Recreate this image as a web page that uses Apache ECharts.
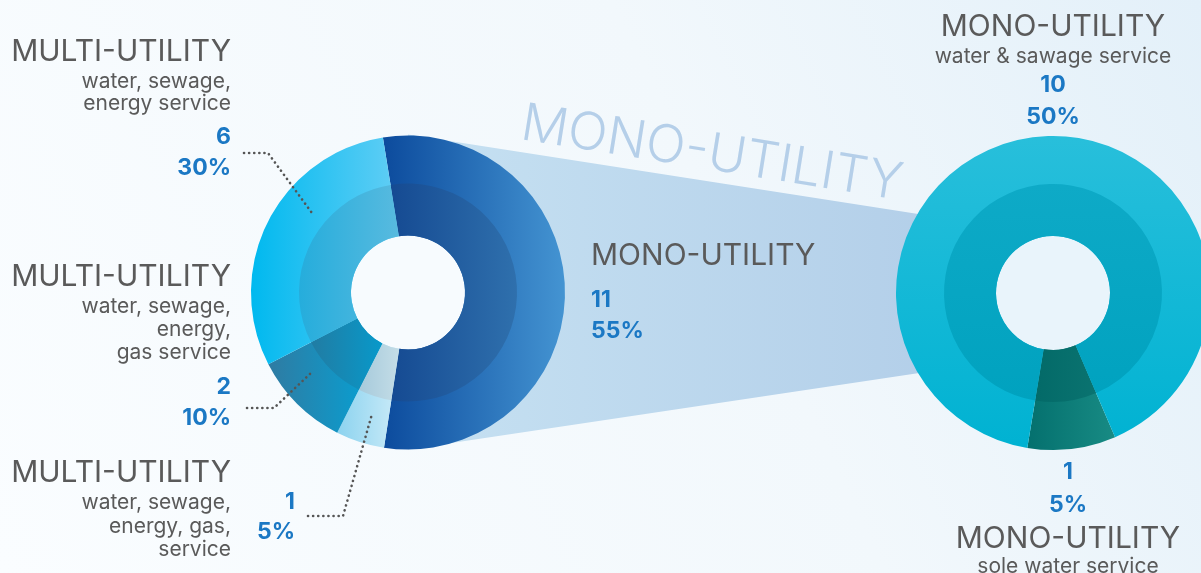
<!DOCTYPE html>
<html>
<head>
<meta charset="utf-8">
<script src="https://cdn.jsdelivr.net/npm/echarts@6/dist/echarts.min.js"></script>
<style>
html,body{margin:0;padding:0;background:#f4f9fd;}
#main{width:1201px;height:573px;}
</style>
</head>
<body>
<div id="main"></div>
<script>
// ---- data ----
const leftNames = ['MONO-UTILITY', 'MULTI-UTILITY (water, sewage, energy, gas, service)', 'MULTI-UTILITY (water, sewage, energy, gas service)', 'MULTI-UTILITY (water, sewage, energy service)'];
const leftValues = [11, 1, 2, 6];
const leftPercents = ['55%', '5%', '10%', '30%'];
const rightNames = ['MONO-UTILITY (sole water service)', 'MONO-UTILITY (water & sawage service)'];
const rightValues = [1, 10];
const rightPercents = ['5%', '50%'];
const bandTitle = 'MONO-UTILITY';

// ---- layout ----
const LC = [408, 292.5], RC = [1053, 293];
const R_HOLE = 57, R_MID = 109, R_OUT = 157;
const FONT = 'Inter, "Noto Sans", sans-serif';
const GRAY = '#5a5a5a', BLUE = '#1b78c4';
const T_SIZE = 30, S_SIZE = 21, N_SIZE = 23;

function hgrad(a, b) { return new echarts.graphic.LinearGradient(0, 0, 1, 0, [{offset: 0, color: a}, {offset: 1, color: b}]); }
function vgrad(a, b) { return new echarts.graphic.LinearGradient(0, 0, 0, 1, [{offset: 0, color: a}, {offset: 1, color: b}]); }

const leftOuterColors = [hgrad('#0c4b9d', '#4494d2'), hgrad('#8cd3ef', '#cbebf8'), hgrad('#2f7ba2', '#03a4d8'), hgrad('#00b9ef', '#62cef5')];
const leftInnerColors = [hgrad('#154a92', '#2f70ad'), hgrad('#a6cadb', '#c4dde7'), hgrad('#217ca3', '#0899ca'), hgrad('#25addc', '#58badf')];
const rightOuterColors = [hgrad('#04706e', '#188b84'), vgrad('#28bfdb', '#00b2d2')];
const rightInnerColors = [hgrad('#036a68', '#0a7370'), vgrad('#0eaac7', '#00a2bf')];

function pieData(names, values, colors) {
  return values.map((v, i) => ({ name: names[i], value: v, itemStyle: { color: colors[i] } }));
}
function pieSeries(center, radius, startAngle, data, z) {
  return {
    type: 'pie', center: center, radius: radius, startAngle: startAngle, clockwise: true,
    silent: true, animation: false, label: { show: false }, labelLine: { show: false },
    itemStyle: { borderWidth: 0 }, z: z, data: data
  };
}

const chart = echarts.init(document.getElementById('main'), null, { renderer: 'canvas' });

function txt(x, y, text, size, color, align, weight, extra) {
  return Object.assign({
    type: 'text', x: x, y: y, z: 100, silent: true,
    style: { text: text, fill: color, font: (weight || 400) + ' ' + size + 'px ' + FONT, textAlign: align || 'right', textVerticalAlign: 'middle' }
  }, extra || {});
}
function num(x, y, text, align) { return txt(x, y, text, N_SIZE, BLUE, align || 'right', 700); }
function dots(points) {
  return { type: 'polyline', z: 90, silent: true, shape: { points: points },
    style: { stroke: '#555', lineWidth: 2.6, lineDash: [0.1, 5], lineCap: 'round', fill: null } };
}

const leftTitle = 'MULTI-UTILITY';
const graphics = [
  // connecting band
  { type: 'polygon', z: 1, silent: true,
    shape: { points: [[LC[0], LC[1] - 158], [RC[0], RC[1] - 58], [RC[0], RC[1] + 60], [LC[0], LC[1] + 157]] },
    style: { fill: hgrad('#c6e1f2', '#afcbe7') } },
  // donut holes (background showing through)
  { type: 'circle', z: 3, silent: true, shape: { cx: LC[0], cy: LC[1], r: R_HOLE + 1 }, style: { fill: '#f7fbfe' } },
  { type: 'circle', z: 3, silent: true, shape: { cx: RC[0], cy: RC[1], r: R_HOLE + 1 }, style: { fill: '#e9f4fb' } },
  // rotated band title
  txt(712, 154, bandTitle, 52, '#b5cfe9', 'center', 300, { rotation: -0.159, z: 4 }),

  // left block 1 (30%)
  txt(231, 52, leftTitle, T_SIZE, GRAY),
  txt(231, 82, 'water, sewage,', S_SIZE, GRAY),
  txt(231, 104, 'energy service', S_SIZE, GRAY),
  num(231, 137, String(leftValues[3])),
  num(231, 168, leftPercents[3]),
  // left block 2 (10%)
  txt(231, 277, leftTitle, T_SIZE, GRAY),
  txt(231, 307, 'water, sewage,', S_SIZE, GRAY),
  txt(231, 330, 'energy,', S_SIZE, GRAY),
  txt(231, 353, 'gas service', S_SIZE, GRAY),
  num(231, 387, String(leftValues[2])),
  num(231, 418, leftPercents[2]),
  // left block 3 (5%)
  txt(231, 473, leftTitle, T_SIZE, GRAY),
  txt(231, 503, 'water, sewage,', S_SIZE, GRAY),
  txt(231, 527, 'energy, gas,', S_SIZE, GRAY),
  txt(231, 550, 'service', S_SIZE, GRAY),
  num(295, 502, String(leftValues[1])),
  num(295, 532, leftPercents[1]),
  // middle
  txt(591, 256, 'MONO-UTILITY', T_SIZE, GRAY, 'left'),
  num(591, 300, String(leftValues[0]), 'left'),
  num(591, 331, leftPercents[0], 'left'),
  // right top
  txt(1053, 27, 'MONO-UTILITY', T_SIZE, GRAY, 'center'),
  txt(1053, 57, 'water & sawage service', S_SIZE, GRAY, 'center'),
  num(1053, 85, String(rightValues[1]), 'center'),
  num(1053, 117, rightPercents[1], 'center'),
  // right bottom
  num(1068, 472, String(rightValues[0]), 'center'),
  num(1068, 505, rightPercents[0], 'center'),
  txt(1068, 539, 'MONO-UTILITY', T_SIZE, GRAY, 'center'),
  txt(1068, 567, 'sole water service', S_SIZE, GRAY, 'center'),

  // leader lines
  dots([[244, 153], [268, 153], [312, 213]]),
  dots([[247, 408], [274, 408], [312, 372]]),
  dots([[308, 516], [343, 516], [372, 414]])
];

chart.setOption({
  animation: false,
  backgroundColor: new echarts.graphic.LinearGradient(0, 1, 1, 0, [
    { offset: 0, color: '#fafdff' }, { offset: 0.6, color: '#f2f8fc' }, { offset: 1, color: '#e3f0f9' }
  ]),
  series: [
    pieSeries(LC, [R_HOLE, R_OUT], 99.2, pieData(leftNames, leftValues, leftOuterColors), 5),
    pieSeries(LC, [R_HOLE, R_MID], 99.2, pieData(leftNames, leftValues, leftInnerColors), 6),
    pieSeries(RC, [R_HOLE, R_OUT], -66.7, pieData(rightNames, rightValues, rightOuterColors), 5),
    pieSeries(RC, [R_HOLE, R_MID], -66.7, pieData(rightNames, rightValues, rightInnerColors), 6)
  ],
  graphic: { elements: graphics }
});
</script>
</body>
</html>
